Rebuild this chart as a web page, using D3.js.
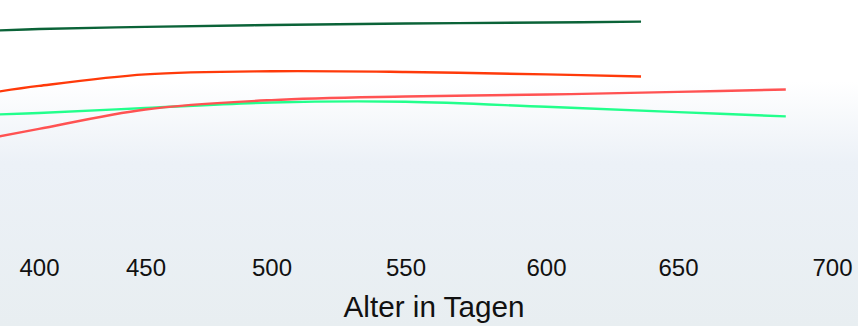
<!DOCTYPE html>
<html>
<head>
<meta charset="utf-8">
<script src="https://cdn.jsdelivr.net/npm/d3@7"></script>
<style>
  body { margin: 0; padding: 0; background: #fff; }
  svg { display: block; }
</style>
</head>
<body>
<div id="chart"></div>
<script>
var width = 858
var height = 326

// Alter in Tagen
var agesShort = [380, 400, 450, 500, 550, 600, 636]
var agesLong = [380, 400, 450, 500, 550, 600, 650, 685]

// values (no y axis shown, relative units 0..100)
var darkGreenValues = [87.3, 87.9, 88.8, 89.6, 90.2, 90.6, 91.0]
var orangeValues = [61.7, 64.2, 69.0, 70.3, 70.0, 69.0, 68.1]
var brightGreenValues = [52.3, 52.9, 55.0, 57.3, 57.6, 55.5, 53.3, 51.5]
var redValues = [42.9, 46.3, 54.4, 58.3, 59.8, 60.6, 61.7, 62.7]

var tickValues = [400, 450, 500, 550, 600, 650, 700]
var axisTitle = "Alter in Tagen"

var series = [
    {ages: agesShort, values: darkGreenValues, color: "#0b6338"},
    {ages: agesShort, values: orangeValues, color: "#ff3a0a"},
    {ages: agesLong, values: brightGreenValues, color: "#22ff8c"},
    {ages: agesLong, values: redValues, color: "#ff5252"}
]

var svg = d3.select("#chart")
    .append("svg")
        .attr("width", width)
        .attr("height", height)

// background fade
var grad = svg.append("defs").append("linearGradient")
    .attr("id", "bg")
    .attr("x1", 0).attr("y1", 0)
    .attr("x2", 0).attr("y2", 1)
grad.append("stop").attr("offset", "0").attr("stop-color", "#ffffff")
grad.append("stop").attr("offset", "0.25").attr("stop-color", "#ffffff")
grad.append("stop").attr("offset", "0.5").attr("stop-color", "#ecf1f7")
grad.append("stop").attr("offset", "1").attr("stop-color", "#e8eef1")

svg.append("rect")
    .attr("width", width)
    .attr("height", height)
    .attr("fill", "url(#bg)")

// the tick spacing in the picture is not even, so piecewise scale
var x = d3.scaleLinear()
    .domain(tickValues)
    .range([39, 145.5, 271.5, 405.5, 546, 678, 832])

var y = d3.scaleLinear()
    .domain([0, 100])
    .range([240, 0])

var line = d3.line()
    .x(function(d) { return x(d[0]); })
    .y(function(d) { return y(d[1]); })
    .curve(d3.curveCatmullRom.alpha(0.5))

svg.selectAll("path.series")
    .data(series)
    .enter()
    .append("path")
        .attr("class", "series")
        .attr("fill", "none")
        .attr("stroke", function(d) { return d.color; })
        .attr("stroke-width", 2.4)
        .attr("d", function(d) {
            return line(d.ages.map(function(a, i) { return [a, d.values[i]]; }));
        })

var xAxis = d3.axisBottom(x)
    .tickValues(tickValues)
    .tickSize(0)
    .tickPadding(0)
    .tickFormat(d3.format("d"))

var axisG = svg.append("g")
    .attr("transform", "translate(0, 259)")
    .call(xAxis)

axisG.select(".domain").remove()
axisG.selectAll("text")
    .attr("font-family", "'Liberation Sans', Arial, sans-serif")
    .attr("font-size", "24px")
    .attr("fill", "#111")

svg.append("text")
    .attr("x", 434)
    .attr("y", 317)
    .attr("text-anchor", "middle")
    .attr("font-family", "'Liberation Sans', Arial, sans-serif")
    .attr("font-size", "30px")
    .attr("textLength", 181)
    .attr("lengthAdjust", "spacingAndGlyphs")
    .attr("fill", "#111")
    .text(axisTitle)
</script>
</body>
</html>
